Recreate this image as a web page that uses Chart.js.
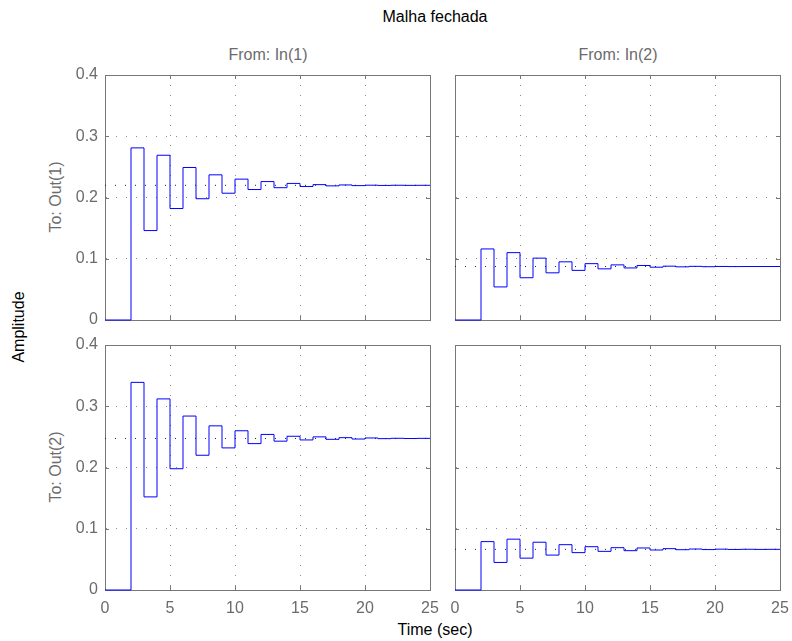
<!DOCTYPE html>
<html>
<head>
<meta charset="utf-8">
<script src="https://cdn.jsdelivr.net/npm/chart.js@4"></script>
<style>
    body { margin: 0; background: #fff; }
    #page { position: relative; width: 792px; height: 641px; overflow: hidden; font-family: 'Liberation Sans', Arial, sans-serif; }
    canvas { position: absolute; }
    .lbl { position: absolute; font-size: 16px; line-height: 16px; white-space: nowrap; transform: translate(-50%, -50%); }
    .rot { transform: translate(-50%, -50%) rotate(-90deg); }
    .gray { color: #6b6b6b; }
</style>
</head>
<body>
<div id="page">
    <div class="lbl" style="left:435px; top:17px;">Malha fechada</div>
    <div class="lbl gray" style="left:268px; top:55px;">From: In(1)</div>
    <div class="lbl gray" style="left:618px; top:55px;">From: In(2)</div>
    <div class="lbl gray rot" style="left:56px; top:197px;">To: Out(1)</div>
    <div class="lbl gray rot" style="left:56px; top:467px;">To: Out(2)</div>
    <div class="lbl rot" style="left:19px; top:327px;">Amplitude</div>
    <div class="lbl" style="left:435px; top:630px;">Time (sec)</div>
    <canvas id="c11" width="400" height="295" style="left:50px; top:55px;"></canvas>
    <canvas id="c12" width="400" height="295" style="left:400px; top:55px;"></canvas>
    <canvas id="c21" width="400" height="295" style="left:50px; top:325px;"></canvas>
    <canvas id="c22" width="400" height="295" style="left:400px; top:325px;"></canvas>
</div>
<script>
// sample instants (Ts = 1 s)
const sampleTimes = [0, 1, 2, 3, 4, 5, 6, 7, 8, 9, 10, 11, 12, 13, 14, 15, 16, 17, 18, 19, 20, 21, 22, 23, 24, 25];

// step responses
const out1In1 = [0, 0, 0.281, 0.146, 0.269, 0.182, 0.249, 0.198, 0.237, 0.207, 0.230, 0.213, 0.226, 0.216, 0.223, 0.218, 0.221, 0.219, 0.2205, 0.2194, 0.2201, 0.2197, 0.2200, 0.2198, 0.2199, 0.2199];
const out1In2 = [0, 0, 0.116, 0.054, 0.110, 0.069, 0.101, 0.077, 0.095, 0.081, 0.092, 0.0835, 0.090, 0.085, 0.089, 0.0862, 0.0879, 0.0868, 0.0876, 0.0870, 0.0874, 0.0872, 0.0873, 0.0873, 0.0873, 0.0873];
const out2In1 = [0, 0, 0.339, 0.152, 0.312, 0.198, 0.284, 0.220, 0.268, 0.232, 0.260, 0.239, 0.254, 0.243, 0.251, 0.245, 0.250, 0.246, 0.2487, 0.2465, 0.2482, 0.2471, 0.2477, 0.2473, 0.2476, 0.2474];
const out2In2 = [0, 0, 0.079, 0.045, 0.083, 0.052, 0.078, 0.057, 0.074, 0.061, 0.0707, 0.0631, 0.0691, 0.0642, 0.0686, 0.0653, 0.0675, 0.0658, 0.0669, 0.0660, 0.0667, 0.0662, 0.0665, 0.0663, 0.0664, 0.0664];

// steady-state values (dotted lines)
const steadyValues = [0.2199, 0.0873, 0.2474, 0.0664];

const timeTicks = [0, 5, 10, 15, 20, 25];
const ampTicks = [0, 0.1, 0.2, 0.3, 0.4];

const FONT = "'Liberation Sans', Arial, sans-serif";
const FRAME = '#777777';
const TICK_TEXT = '#6b6b6b';

// box around plot area + inward ticks on all four sides
const boxPlugin = {
    id: 'matlabBox',
    beforeDatasetsDraw(chart) {
        const ctx = chart.ctx;
        const a = chart.chartArea;
        const xs = chart.scales.x;
        const ys = chart.scales.y;
        const len = 4;
        ctx.save();
        ctx.strokeStyle = FRAME;
        ctx.lineWidth = 1;
        ctx.beginPath();
        timeTicks.forEach(t => {
            const px = Math.round(xs.getPixelForValue(t)) + 0.5;
            ctx.moveTo(px, a.bottom);
            ctx.lineTo(px, a.bottom - len);
            ctx.moveTo(px, a.top);
            ctx.lineTo(px, a.top + len);
        });
        ampTicks.forEach(v => {
            const py = Math.round(ys.getPixelForValue(v)) + 0.5;
            ctx.moveTo(a.left, py);
            ctx.lineTo(a.left + len, py);
            ctx.moveTo(a.right, py);
            ctx.lineTo(a.right - len, py);
        });
        ctx.stroke();
        ctx.strokeRect(a.left + 0.5, a.top + 0.5, a.right - a.left, a.bottom - a.top);
        ctx.restore();
    }
};

function makePanel(canvasId, values, steady, showX, showY) {
    const ctx = document.getElementById(canvasId).getContext('2d');
    return new Chart(ctx, {
        type: 'line',
        data: {
            datasets: [{
                data: sampleTimes.map((t, i) => ({ x: t, y: values[i] })),
                borderColor: '#0000ff',
                borderWidth: 1,
                pointRadius: 0,
                stepped: true,
                clip: 2,
                order: 0
            }, {
                data: [{ x: sampleTimes[0], y: steady }, { x: sampleTimes[sampleTimes.length - 1], y: steady }],
                borderColor: '#222222',
                borderWidth: 1,
                borderDash: [1, 9],
                pointRadius: 0,
                order: 1
            }]
        },
        options: {
            responsive: false,
            animation: false,
            devicePixelRatio: 1,
            // generous padding so tick-label overflow never moves the plot area
            layout: { padding: { top: 20, right: 20, left: 0, bottom: 0 } },
            plugins: {
                legend: { display: false },
                tooltip: { enabled: false }
            },
            scales: {
                x: {
                    type: 'linear',
                    min: 0,
                    max: 25,
                    afterBuildTicks: s => { s.ticks = timeTicks.map(v => ({ value: v })); },
                    afterFit: s => { s.height = 30; },
                    grid: { color: '#8a8a8a', drawTicks: false },
                    border: { color: FRAME, dash: [1, 9] },
                    ticks: {
                        display: showX,
                        padding: 9,
                        maxRotation: 0,
                        color: TICK_TEXT,
                        font: { family: FONT, size: 16 }
                    }
                },
                y: {
                    min: 0,
                    max: 0.4,
                    afterBuildTicks: s => { s.ticks = ampTicks.map(v => ({ value: v })); },
                    afterFit: s => { s.width = 55; },
                    grid: { color: '#8a8a8a', drawTicks: false },
                    border: { color: FRAME, dash: [1, 9] },
                    ticks: {
                        display: showY,
                        padding: 7,
                        color: TICK_TEXT,
                        font: { family: FONT, size: 16 },
                        callback: v => String(Math.round(v * 10) / 10)
                    }
                }
            }
        },
        plugins: [boxPlugin]
    });
}

makePanel('c11', out1In1, steadyValues[0], false, true);
makePanel('c12', out1In2, steadyValues[1], false, false);
makePanel('c21', out2In1, steadyValues[2], true, true);
makePanel('c22', out2In2, steadyValues[3], true, false);
</script>
</body>
</html>
